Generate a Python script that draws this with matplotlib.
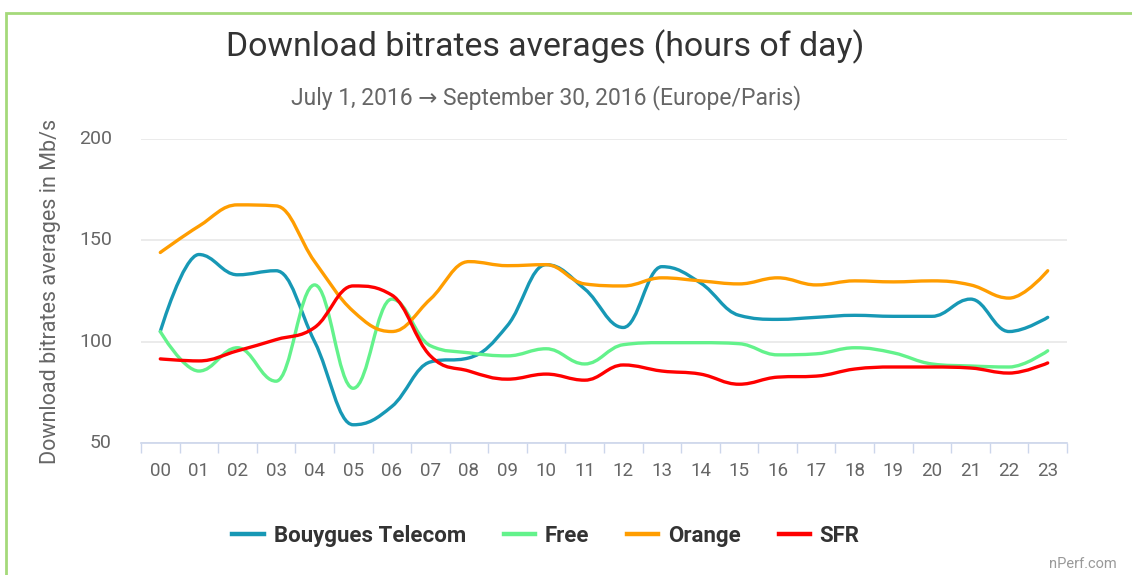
"""Download bitrates averages by hour of day (nPerf, Q3 2016)"""

import matplotlib.pyplot as plt
from matplotlib.path import Path
from matplotlib.patches import PathPatch, Rectangle
from matplotlib.lines import Line2D

plt.rcParams['font.family'] = ['Roboto', 'DejaVu Sans']

# Data
hours = ['00', '01', '02', '03', '04', '05', '06', '07', '08', '09', '10', '11',
         '12', '13', '14', '15', '16', '17', '18', '19', '20', '21', '22', '23']
bouygues = [105, 143, 133, 135, 100, 59, 68, 90, 92, 108, 138, 126,
            107, 137, 129, 113, 111, 112, 113, 112.5, 112.5, 121, 105, 112]
free = [105, 85.5, 97, 80.5, 128, 77, 121, 98, 94.5, 93, 96.5, 89,
        98.5, 99.5, 99.5, 99, 93.5, 94, 97, 94.5, 89, 88, 87.5, 95.5]
orange = [144, 157, 167.5, 167, 139.5, 115, 105, 121, 139.5, 137.5, 138, 128.5,
          127.5, 131.5, 130, 128.5, 131.5, 128, 130, 129.5, 130, 128, 121.5, 135]
sfr = [91.5, 90.5, 95.5, 101, 107, 127.5, 123, 93, 85.5, 81.5, 84, 81,
       88.5, 85.5, 84, 79, 82.5, 83, 86.5, 87.5, 87.5, 87, 84.5, 89.5]

series_names = ['Bouygues Telecom', 'Free', 'Orange', 'SFR']
series_data = [bouygues, free, orange, sfr]
colors = ['#1798b5', '#63f28b', '#ff9d00', '#ff0000']


def spline_path(xs, ys, smoothing=1.5):
    # bezier spline like the one of the original chart
    n = len(xs)
    verts = [(xs[0], ys[0])]
    codes = [Path.MOVETO]
    left = [None] * n
    right = [None] * n
    for i in range(1, n - 1):
        px, py = xs[i], ys[i]
        lx, ly = xs[i - 1], ys[i - 1]
        nx, ny = xs[i + 1], ys[i + 1]
        d = smoothing + 1
        lcx = (smoothing * px + lx) / d
        lcy = (smoothing * py + ly) / d
        rcx = (smoothing * px + nx) / d
        rcy = (smoothing * py + ny) / d
        corr = (rcy - lcy) * (rcx - px) / (rcx - lcx) + py - rcy
        lcy += corr
        rcy += corr
        if lcy > ly and lcy > py:
            lcy = max(ly, py)
            rcy = 2 * py - lcy
        elif lcy < ly and lcy < py:
            lcy = min(ly, py)
            rcy = 2 * py - lcy
        if rcy > ny and rcy > py:
            rcy = max(ny, py)
            lcy = 2 * py - rcy
        elif rcy < ny and rcy < py:
            rcy = min(ny, py)
            lcy = 2 * py - rcy
        left[i] = (lcx, lcy)
        right[i] = (rcx, rcy)
    for i in range(1, n):
        c1 = right[i - 1] or (xs[i - 1], ys[i - 1])
        c2 = left[i] or (xs[i], ys[i])
        verts += [c1, c2, (xs[i], ys[i])]
        codes += [Path.CURVE4] * 3
    return Path(verts, codes)


W, H = 1132, 575
fig = plt.figure(figsize=(W / 100, H / 100), dpi=100)

# green frame of the screenshot
fig.patches.append(Rectangle((6 / W, -0.1), 1.2, (H - 13) / H + 0.1, transform=fig.transFigure,
                             fill=False, edgecolor='#a5d97a', lw=2))

ax = fig.add_axes([141 / W, (H - 443) / H, 926 / W, 304 / H])
x = list(range(len(hours)))
for name, vals, col in zip(series_names, series_data, colors):
    ax.add_patch(PathPatch(spline_path(x, vals), fill=False, edgecolor=col, lw=2.4,
                           capstyle='round', joinstyle='round', zorder=3))

ax.set_xlim(-0.5, 23.5)
ax.set_ylim(50, 200)
ax.set_yticks([50, 100, 150, 200])
ax.set_xticks(x)
ax.set_xticklabels(hours)
ax.set_xticks([i - 0.5 for i in range(len(hours) + 1)], minor=True)
ax.tick_params(axis='x', which='major', length=0, pad=14, labelsize=13.5, labelcolor='#666666')
ax.tick_params(axis='x', which='minor', length=7.5, width=1, color='#ccd6eb')
ax.tick_params(axis='y', length=0, pad=21, labelsize=14, labelcolor='#666666')
for t in ax.get_yticklabels():
    t.set_verticalalignment('center')
    t.set_horizontalalignment('right')
for s in ['top', 'right', 'left']:
    ax.spines[s].set_visible(False)
ax.spines['bottom'].set_color('#ccd6eb')
ax.spines['bottom'].set_linewidth(1.2)
ax.grid(axis='y', color='#e6e6e6', lw=1.1)
ax.set_axisbelow(True)

ax.set_ylabel('Download bitrates averages in Mb/s', fontsize=15.5, color='#666666')
ax.yaxis.set_label_coords(-80 / 926, 0.5)

fig.text(545 / W, 1 - 47 / H, 'Download bitrates averages (hours of day)',
         ha='center', va='center', fontsize=24.4, color='#333333')
fig.text(546 / W, 1 - 98 / H, 'July 1, 2016 \u2192 September 30, 2016 (Europe/Paris)',
         ha='center', va='center', fontsize=16.5, color='#666666')

handles = [Line2D([], [], color=c, lw=3.2) for c in colors]
fig.legend(handles, series_names, loc='center', bbox_to_anchor=(546 / W, 1 - 536 / H),
           ncol=4, frameon=False, handlelength=1.4, handletextpad=0.45, columnspacing=1.7,
           prop={'weight': 'bold', 'size': 16}, labelcolor='#333333')

fig.text(1117 / W, 1 - 564 / H, 'nPerf.com', ha='right', va='center', fontsize=10.5, color='#999999')

plt.savefig('out.png', dpi=100)
